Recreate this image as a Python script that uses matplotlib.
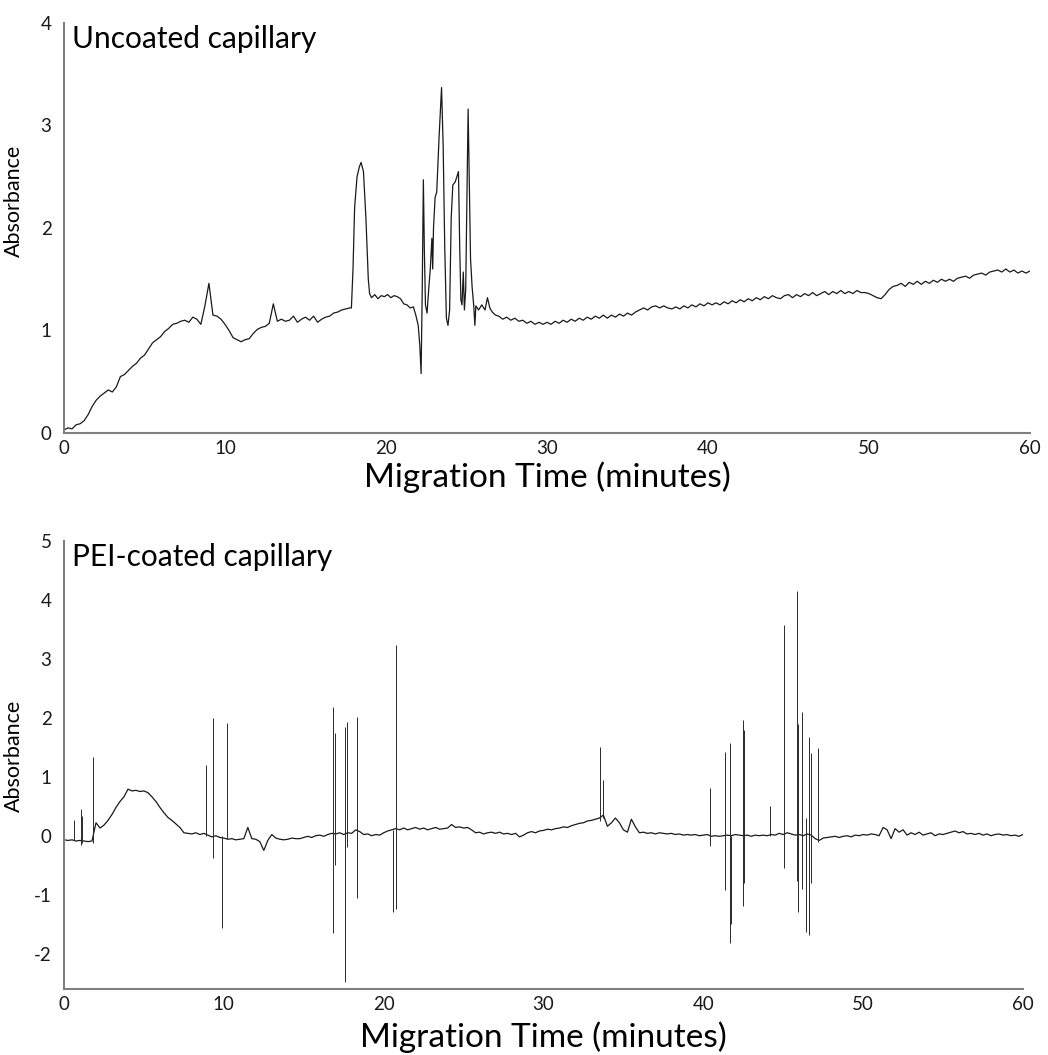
import numpy as np
import matplotlib
matplotlib.use('Agg')
import matplotlib.pyplot as plt

plt.rcParams['font.family'] = ['Lato', 'DejaVu Sans']
plt.rcParams['axes.unicode_minus'] = False

# ---- Uncoated capillary (top) ----
# smooth part 0 - 17.75 min, one value every 0.25 min
top_start_vals = [
    0.03, 0.05, 0.04, 0.08,
    0.09, 0.12, 0.18, 0.26,
    0.32, 0.36, 0.39, 0.42,
    0.40, 0.45, 0.55, 0.57,
    0.61, 0.65, 0.68, 0.73,
    0.76, 0.82, 0.88, 0.91,
    0.94, 0.99, 1.02, 1.06,
    1.07, 1.09, 1.10, 1.08,
    1.13, 1.11, 1.06, 1.24,
    1.46, 1.15, 1.14, 1.11,
    1.06, 1.00, 0.93, 0.91,
    0.89, 0.91, 0.92, 0.97,
    1.01, 1.03, 1.04, 1.07,
    1.26, 1.09, 1.11, 1.09,
    1.10, 1.14, 1.08, 1.11,
    1.13, 1.10, 1.14, 1.08,
    1.11, 1.13, 1.14, 1.17,
    1.18, 1.20, 1.21, 1.22,
]

# peak region, read point by point
top_peak_t = [17.85, 17.95, 18.05, 18.2, 18.35, 18.45, 18.6, 18.75, 18.9, 18.98,
              19.1, 19.3, 19.5, 19.7, 19.9, 20.1, 20.3, 20.5, 20.7, 20.9,
              21.1, 21.3, 21.5, 21.7, 21.85, 22.0, 22.1, 22.18, 22.25, 22.32,
              22.38, 22.45, 22.55, 22.65, 22.75, 22.85, 22.9, 22.95, 23.05, 23.15,
              23.3, 23.45, 23.55, 23.65, 23.75, 23.85, 23.95, 24.05, 24.15, 24.3,
              24.4, 24.5, 24.58, 24.65, 24.72, 24.8, 24.87, 24.95, 25.1, 25.25,
              25.35, 25.45, 25.52, 25.58, 25.75, 25.95, 26.15, 26.3, 26.45, 26.6,
              26.8]
top_peak_v = [1.22, 1.6, 2.2, 2.5, 2.6, 2.64, 2.55, 2.1, 1.5, 1.36,
              1.32, 1.35, 1.31, 1.34, 1.33, 1.35, 1.32, 1.34, 1.33, 1.31,
              1.26, 1.25, 1.22, 1.23, 1.15, 1.05, 0.85, 0.58, 1.4, 2.47,
              1.8, 1.25, 1.17, 1.4, 1.6, 1.9, 1.6, 2.0, 2.3, 2.35,
              2.9, 3.37, 2.8, 1.8, 1.12, 1.05, 1.2, 2.1, 2.42, 2.45,
              2.5, 2.55, 1.8, 1.3, 1.25, 1.57, 1.2, 1.4, 3.16, 1.7,
              1.42, 1.24, 1.05, 1.24, 1.2, 1.25, 1.2, 1.32, 1.22, 1.18,
              1.15]

# tail 27 - 60 min, one value every 0.25 min
top_end_vals = [
    1.14, 1.11, 1.13, 1.10,
    1.12, 1.09, 1.10, 1.07,
    1.09, 1.06, 1.08, 1.06,
    1.08, 1.06, 1.09, 1.07,
    1.10, 1.08, 1.11, 1.09,
    1.12, 1.10, 1.13, 1.11,
    1.14, 1.12, 1.15, 1.12,
    1.15, 1.13, 1.16, 1.14,
    1.17, 1.15, 1.18, 1.20,
    1.22, 1.20, 1.23, 1.24,
    1.22, 1.24, 1.22, 1.21,
    1.23, 1.21, 1.24, 1.22,
    1.25, 1.23, 1.26, 1.24,
    1.27, 1.25, 1.27, 1.25,
    1.28, 1.26, 1.29, 1.27,
    1.30, 1.28, 1.31, 1.29,
    1.32, 1.30, 1.33, 1.31,
    1.34, 1.32, 1.31, 1.34,
    1.35, 1.32, 1.35, 1.33,
    1.36, 1.34, 1.37, 1.34,
    1.36, 1.38, 1.35, 1.38,
    1.36, 1.39, 1.36, 1.38,
    1.36, 1.39, 1.37, 1.37,
    1.36, 1.34, 1.32, 1.31,
    1.35, 1.40, 1.43, 1.44,
    1.46, 1.43, 1.47, 1.45,
    1.48, 1.45, 1.48, 1.46,
    1.49, 1.47, 1.50, 1.48,
    1.50, 1.48, 1.51, 1.52,
    1.53, 1.51, 1.54, 1.55,
    1.56, 1.54, 1.57, 1.58,
    1.59, 1.57, 1.60, 1.57,
    1.59, 1.56, 1.58, 1.56,
    1.58,
]

# ---- PEI-coated capillary (bottom) ----
# baseline 0 - 60 min, one value every 0.25 min
bot_vals = [
    -0.07, -0.08, -0.07, -0.09,
    -0.08, -0.09, -0.10, -0.09,
    0.22, 0.13, 0.18, 0.26,
    0.36, 0.48, 0.58, 0.66,
    0.79, 0.76, 0.77, 0.75,
    0.76, 0.73, 0.66, 0.58,
    0.48, 0.39, 0.31, 0.26,
    0.20, 0.14, 0.05, 0.04,
    0.03, 0.05, 0.02, 0.04,
    0.01, -0.02, 0.00, -0.03,
    -0.04, -0.06, -0.05, -0.07,
    -0.06, -0.05, 0.14, -0.05,
    -0.06, -0.10, -0.25, -0.08,
    0.02, -0.04, -0.06, -0.07,
    -0.06, -0.04, -0.05, -0.05,
    -0.03, -0.01, -0.03, 0.00,
    0.01, -0.01, 0.02, 0.04,
    0.03, 0.05, 0.02, 0.05,
    0.04, 0.10, 0.07, 0.02,
    0.03, 0.00, 0.02, 0.01,
    0.05, 0.08, 0.10, 0.12,
    0.10, 0.13, 0.10, 0.12,
    0.14, 0.11, 0.13, 0.10,
    0.12, 0.14, 0.11, 0.12,
    0.13, 0.19, 0.14, 0.15,
    0.13, 0.14, 0.10, 0.05,
    0.06, 0.03, 0.05, 0.06,
    0.04, 0.06, 0.03, 0.04,
    0.02, 0.04, -0.02, 0.01,
    0.05, 0.07, 0.05, 0.08,
    0.09, 0.11, 0.10, 0.12,
    0.13, 0.15, 0.14, 0.17,
    0.19, 0.21, 0.22, 0.25,
    0.26, 0.28, 0.30, 0.35,
    0.16, 0.22, 0.30, 0.22,
    0.10, 0.06, 0.28, 0.15,
    0.05, 0.06, 0.04, 0.05,
    0.03, 0.05, 0.04, 0.03,
    0.04, 0.02, 0.03, 0.01,
    0.02, 0.01, 0.02, 0.00,
    0.01, 0.02, -0.01, 0.00,
    -0.01, 0.00, 0.01, 0.00,
    0.02, 0.01, 0.00, 0.01,
    -0.01, 0.01, 0.00, 0.01,
    0.00, 0.02, 0.01, 0.04,
    0.02, 0.05, 0.03, 0.01,
    0.02, 0.00, 0.03, 0.01,
    -0.05, -0.08, -0.04, -0.03,
    -0.02, -0.01, -0.03, -0.01,
    0.00, -0.02, 0.01, 0.00,
    0.02, 0.01, 0.03, 0.02,
    0.00, 0.14, 0.10, -0.05,
    0.12, 0.06, 0.10, 0.01,
    0.05, 0.02, 0.06, 0.01,
    0.03, 0.05, 0.00, 0.03,
    0.02, 0.04, 0.06, 0.08,
    0.05, 0.07, 0.03, 0.04,
    0.02, 0.04, 0.01, 0.03,
    0.00, 0.02, 0.03, 0.01,
    0.02, 0.00, 0.01, -0.01,
    0.02,
]

# sharp spikes: time, lowest, highest
spike_t = [0.63, 1.05, 1.15, 1.8, 8.9, 9.3, 9.9, 10.2, 16.85, 16.95,
           17.55, 17.7, 18.3, 20.6, 20.8, 33.55, 33.7, 40.4, 41.35, 41.65,
           41.75, 42.5, 42.55, 44.2, 45.05, 45.85, 45.95, 46.15, 46.45, 46.6,
           46.75, 47.2]
spike_lo = [-0.08, -0.15, -0.12, -0.12, 0.0, -0.37, -1.56, -0.06, -1.65, -0.5,
            -2.48, -0.2, -1.05, -1.3, -1.25, 0.25, 0.3, -0.17, -0.92, -1.82,
            -1.5, -1.2, -0.8, 0.0, -0.54, -0.76, -1.3, -0.9, -1.63, -1.68,
            -0.8, -0.1]
spike_hi = [0.27, 0.45, 0.34, 1.34, 1.2, 2.0, 0.0, 1.91, 2.19, 1.74,
            1.85, 1.93, 2.02, 0.1, 3.24, 1.51, 0.95, 0.81, 1.42, 1.57,
            0.0, 1.97, 1.8, 0.5, 3.58, 4.15, 1.9, 2.1, 0.3, 1.68,
            1.4, 1.49]

step = 0.25
top_t = np.concatenate([np.arange(len(top_start_vals)) * step,
                        top_peak_t,
                        27 + np.arange(len(top_end_vals)) * step])
top_v = np.concatenate([top_start_vals, top_peak_v, top_end_vals])
bot_t = np.arange(len(bot_vals)) * step

fig = plt.figure(figsize=(10.48, 10.55), dpi=100)
ax1 = fig.add_axes([0.0611, 0.5896, 0.9217, 0.3886])
ax2 = fig.add_axes([0.0611, 0.0626, 0.9150, 0.4246])

spine_col = '#808080'
for ax in (ax1, ax2):
    for side in ('top', 'right'):
        ax.spines[side].set_visible(False)
    for side in ('left', 'bottom'):
        ax.spines[side].set_color(spine_col)
        ax.spines[side].set_linewidth(1.5)
    ax.tick_params(length=0, labelsize=13.5, colors='#1a1a1a')
    ax.tick_params(axis='y', pad=9)
    ax.tick_params(axis='x', pad=5)
    ax.set_xlim(0, 60)
    ax.set_xticks([0, 10, 20, 30, 40, 50, 60])
    ax.set_ylabel('Absorbance', fontsize=15.5)

ax1.plot(top_t, top_v, color='#1a1a1a', lw=0.9)
ax1.set_ylim(0, 4)
ax1.set_yticks([0, 1, 2, 3, 4])
ax1.set_xlabel('Migration Time (minutes)', fontsize=24, labelpad=3)
ax1.yaxis.set_label_coords(-0.042, 0.565)
ax1.text(0.008, 0.995, 'Uncoated capillary', transform=ax1.transAxes,
         fontsize=21.5, va='top', ha='left')

ax2.plot(bot_t, bot_vals, color='#1a1a1a', lw=0.9)
ax2.vlines(spike_t, spike_lo, spike_hi, color='#2a2a2a', lw=0.7)
ax2.set_ylim(-2.6, 5)
ax2.set_yticks([-2, -1, 0, 1, 2, 3, 4, 5])
ax2.set_xlabel('Migration Time (minutes)', fontsize=24, labelpad=6)
ax2.yaxis.set_label_coords(-0.042, 0.52)
ax2.text(0.008, 0.995, 'PEI-coated capillary', transform=ax2.transAxes,
         fontsize=21.5, va='top', ha='left')

fig.savefig('out.png', dpi=100, facecolor='white')
